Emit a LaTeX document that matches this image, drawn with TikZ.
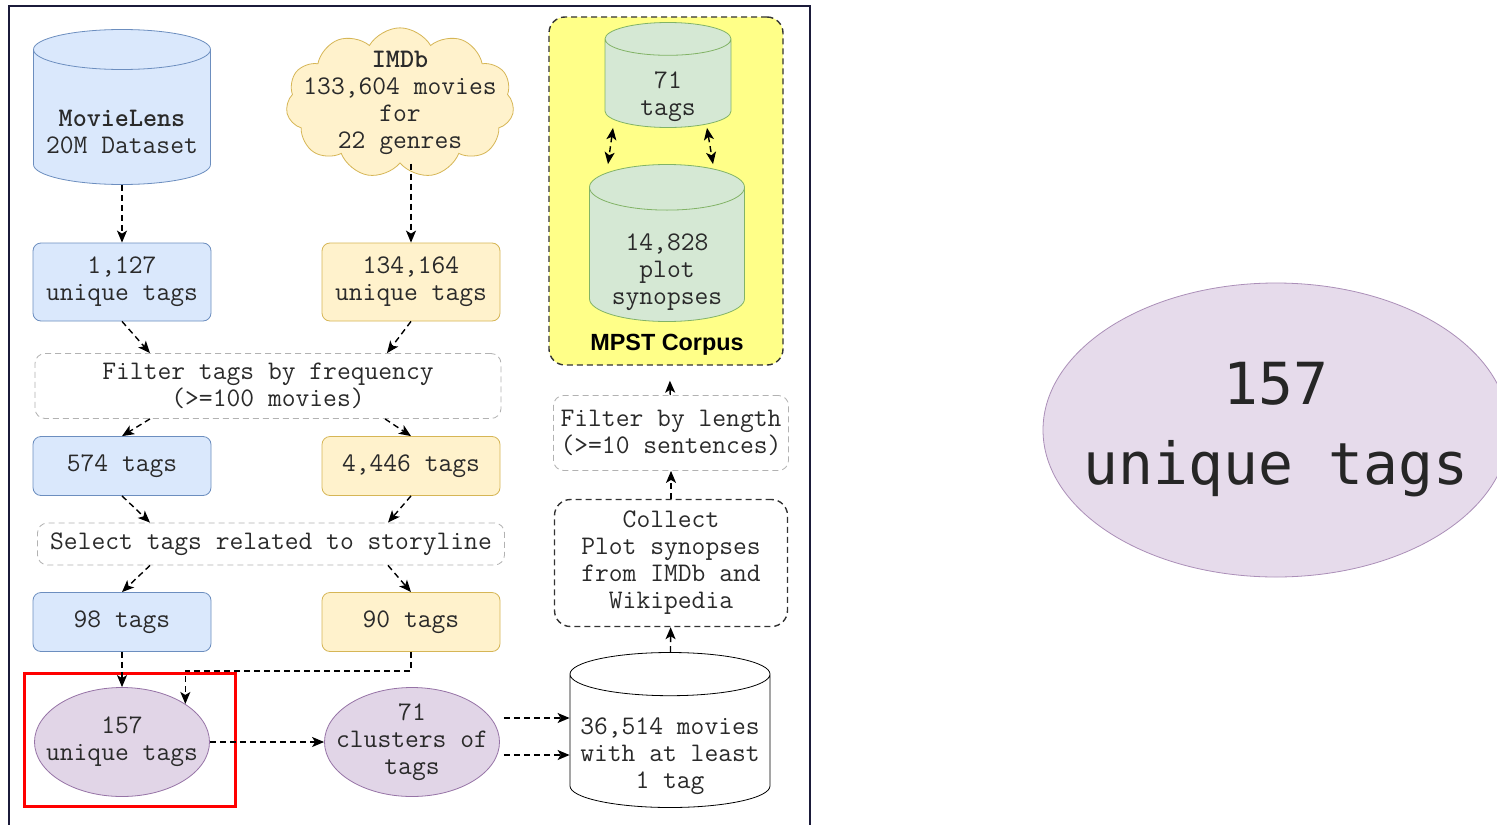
\documentclass[tikz,border=0pt]{standalone}
\usepackage{fontspec}
\setsansfont{Liberation Sans}
\newfontfamily\zoomfont{DejaVu Sans Mono}
\usepackage{tikz}
\usetikzlibrary{shapes,arrows.meta,positioning,calc}
\definecolor{mlfill}{HTML}{DAE8FC}
\definecolor{mldraw}{HTML}{6C8EBF}
\definecolor{imfill}{HTML}{FFF2CC}
\definecolor{imdraw}{HTML}{D6B656}
\definecolor{tagfill}{HTML}{E1D5E7}
\definecolor{tagdraw}{HTML}{9673A6}
\definecolor{synfill}{HTML}{D5E8D4}
\definecolor{syndraw}{HTML}{82B366}
\definecolor{corpfill}{HTML}{FFFF88}
\definecolor{framecol}{HTML}{1B1B3A}
\definecolor{txtcol}{HTML}{2A2A2A}
\newcommand{\mono}{\ttfamily\fontsize{13.4}{13.5}\selectfont}
\newcommand{\dbtext}[2][0pt]{\makebox[40pt]{\raisebox{-#1}[\height][\depth]{\begin{tabular}{@{}c@{}}#2\end{tabular}}}}
\tikzset{
mlblock/.style = {draw=mldraw, fill=mlfill, rectangle, rounded corners=4pt, align=center, minimum width=89pt},
imblock/.style = {draw=imdraw, fill=imfill, rectangle, rounded corners=4pt, align=center, minimum width=89pt},
stepblock/.style = {draw=gray!60, dash pattern=on 3pt off 2pt, rectangle, rounded corners=5pt, align=center},
taskblock/.style = {draw=black!80, dash pattern=on 3pt off 2pt, line width=0.7pt, rectangle, rounded corners=8pt, align=center},
store/.style = {cylinder, shape border rotate=90, draw, aspect=0.5, align=center, inner sep=0pt},
tagnode/.style = {ellipse, draw=tagdraw, fill=tagfill, align=center, minimum width=87.5pt, minimum height=54.5pt, inner xsep=-14pt, inner ysep=-8pt},
flow/.style = {-{Stealth[length=6pt, width=5pt, inset=1.5pt]}, dash pattern=on 3pt off 2pt, line width=0.7pt},
twoway/.style = {{Stealth[length=6pt, width=5pt, inset=1.5pt]}-{Stealth[length=6pt, width=5pt, inset=1.5pt]}, dash pattern=on 3pt off 2pt, line width=0.7pt},
}

\begin{document}
\begin{tikzpicture}[x=0.5pt, y=-0.5pt, every node/.style={font=\mono, text=txtcol}]
    \useasboundingbox (0,0) rectangle (1497,824);
    \fill [white] (0,0) rectangle (1497,824);
    \draw [framecol, line width=1pt] (9,830) |- (810,6) -- (810,830);

    % MovieLens column
    \node [store, draw=mldraw, fill=mlfill, minimum width=88.5pt, minimum height=77.5pt, anchor=shape center] (ml) at (122,107) {\dbtext[8.5pt]{\textbf{MovieLens}\\20M Dataset}};
    \node [mlblock, minimum height=39pt] (t1127) at (122,282) {1,127\\unique tags};
    \node [mlblock, minimum height=29.5pt, below of = t1127, node distance=92pt] (t574) {574 tags};
    \node [mlblock, minimum height=29.5pt, below of = t574, node distance=78pt] (t98) {98 tags};

    % IMDb column
    \node [cloud, cloud puffs=11, cloud puff arc=120, cloud ignores aspect, draw=imdraw, fill=imfill, align=center, inner xsep=-14pt, inner ysep=-4pt, minimum width=114pt, minimum height=75pt] (imdb) at (400,103) {\textbf{IMDb}\\133,604 movies\\for\\22 genres};
    \node [imblock, minimum height=39pt, right of = t1127, node distance=144.5pt] (t134) {134,164\\unique tags};
    \node [imblock, minimum height=29.5pt, below of = t134, node distance=92pt] (t4446) {4,446 tags};
    \node [imblock, minimum height=29.5pt, below of = t4446, node distance=78pt] (t90) {90 tags};

    % shared filtering steps
    \node [stepblock, minimum width=233pt, minimum height=32.5pt] (freq) at (268,386) {Filter tags by frequency\\(>=100 movies)};
    \node [stepblock, minimum width=233.5pt, minimum height=21pt] (story) at (271,544) {Select tags related to storyline};

    % tags and clusters
    \node [tagnode, below of = t98, node distance=60pt] (u157) {157\\unique tags};
    \node [tagnode, right of = u157, node distance=145pt] (c71) {71\\clusters of\\tags};

    % synopses
    \node [store, fill=white, minimum width=100pt, minimum height=77.5pt, aspect=0.54, anchor=shape center] (movies) at (670,730) {\dbtext[7.5pt]{36,514 movies\\with at least\\1 tag}};
    \node [taskblock, minimum width=116.5pt, minimum height=63.5pt] (collect) at (671,563) {Collect\\Plot synopses\\from IMDb and\\Wikipedia};
    \node [stepblock, minimum width=117.5pt, minimum height=37.5pt, above of = collect, node distance=65pt] (lenfilter) {Filter by length\\(>=10 sentences)};

    % MPST corpus
    \node [taskblock, fill=corpfill, minimum width=117pt, minimum height=174pt] (mpst) at (666,191) {};
    \node [store, draw=syndraw, fill=synfill, minimum width=63pt, minimum height=52.5pt, aspect=0.41, anchor=shape center] (tags71) at (668,75) {\dbtext[6.5pt]{71\\tags}};
    \node [store, draw=syndraw, fill=synfill, minimum width=77.5pt, minimum height=78.5pt, aspect=0.57, anchor=shape center] (plot) at (667,243) {\dbtext[8.5pt]{14,828\\plot\\synopses}};
    \node [font=\sffamily\bfseries\fontsize{11.7}{13}\selectfont, text=black] (mpstlabel) at (667,345) {MPST Corpus};

    % highlight and zoom
    \draw [red, line width=1.5pt] (24,673) rectangle (235,806);
    \node [ellipse, draw=tagdraw!80, fill=tagfill!85, align=center, inner xsep=-20pt, inner ysep=-10pt, minimum width=233pt, minimum height=147pt, font=\zoomfont\fontsize{29}{40}\selectfont, text=black!85] (u157zoom) at (1276,430) {157\\unique tags};

    \draw [flow] (ml) -- (t1127);
    \draw [flow] (t134.north |- imdb.south) -- (t134);

    \draw [flow] (t1127.south) -- ([xshift=-59pt]freq.north);
    \draw [flow] (t134.south) -- ([xshift=59.5pt]freq.north);
    \draw [flow] ([xshift=-59pt]freq.south) -- (t574.north);
    \draw [flow] ([xshift=58.5pt]freq.south) -- (t4446.north);

    \draw [flow] (t574.south) -- ([xshift=-60.5pt]story.north);
    \draw [flow] (t4446.south) -- ([xshift=58.5pt]story.north);
    \draw [flow] ([xshift=-60.5pt]story.south) -- (t98.north);
    \draw [flow] ([xshift=58.5pt]story.south) -- (t90.north);

    \draw [flow] (t98) -- (u157);
    \coordinate (j90) at (u157.31 |- 0,671);
    \draw [flow] (t90.south) |- (j90) -- (u157.31);
    \draw [flow] (u157) -- (c71);

    \coordinate (c71a) at ([yshift=12pt]c71.east);
    \coordinate (c71b) at ([yshift=-6.5pt]c71.east);
    \draw [flow, shorten <=2pt] (c71a) -- (c71a -| movies.west);
    \draw [flow, shorten <=2pt] (c71b) -- (c71b -| movies.west);

    \draw [flow] (movies) -- (collect);
    \draw [flow] (collect) -- (lenfilter);
    \draw [flow, shorten >=7.5pt] (lenfilter) -- (mpst);
    \draw [twoway] ([xshift=-27.5pt]tags71.south) -- ([xshift=-29.5pt]plot.north);
    \draw [twoway] ([xshift=19.5pt]tags71.south) -- ([xshift=23pt]plot.north);
    \end{tikzpicture}
\end{document}
